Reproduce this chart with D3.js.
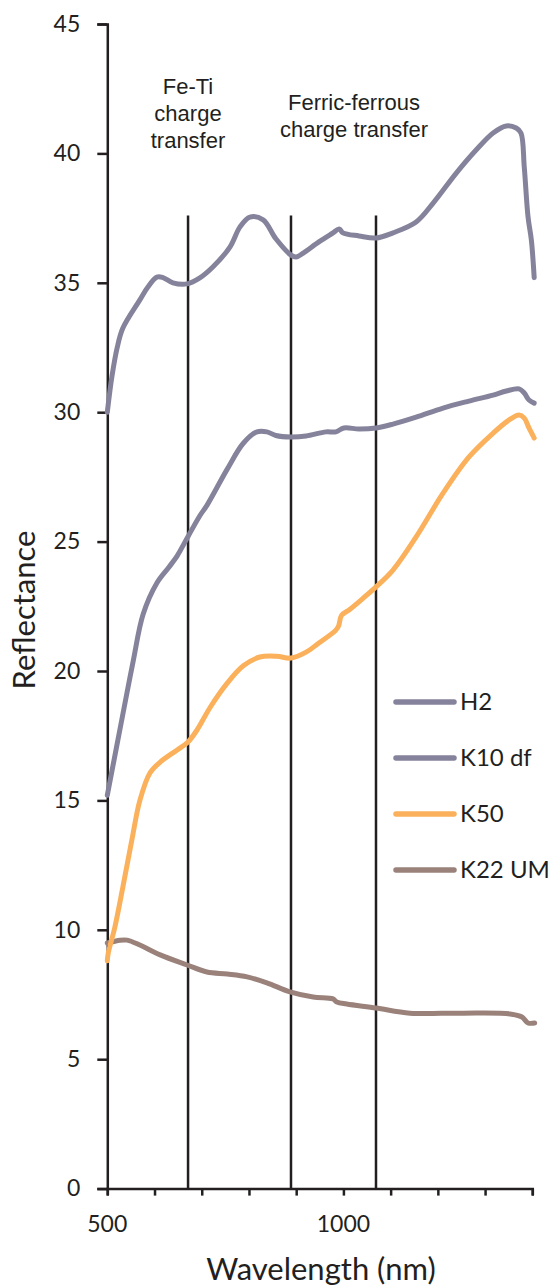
<!DOCTYPE html>
<html>
<head>
<meta charset="utf-8">
<script src="https://cdn.jsdelivr.net/npm/d3@7"></script>
<style>
  html, body { margin: 0; padding: 0; background: #ffffff; }
  svg { display: block; }
</style>
</head>
<body>
<svg id="chart" width="552" height="1286"></svg>
<script>
// ---- Data ----
const seriesNames = ["H2", "K10 df", "K50", "K22 UM"];
const seriesColors = ["#85839b", "#85839b", "#fbb15b", "#9a827b"];

const h2Wl  = [500, 510, 521, 533, 569, 586, 605, 618, 639, 669, 696, 724, 760, 781, 802, 830, 857, 889, 900, 915, 948, 978, 991, 999, 1033, 1069, 1105, 1154, 1190, 1239, 1281, 1317, 1345, 1366, 1376, 1383, 1391, 1398, 1404];
const h2Val = [30.0, 31.4, 32.5, 33.25, 34.34, 34.84, 35.22, 35.2, 35.0, 34.96, 35.19, 35.62, 36.39, 37.16, 37.54, 37.43, 36.7, 36.07, 36.0, 36.15, 36.58, 36.93, 37.08, 36.93, 36.81, 36.73, 36.93, 37.35, 38.08, 39.24, 40.13, 40.79, 41.06, 40.98, 40.79, 39.47, 37.54, 36.65, 35.2];

const k10Wl  = [500, 520, 540, 555, 576, 605, 630, 648, 671, 696, 711, 754, 788, 817, 838, 857, 889, 921, 963, 984, 1001, 1033, 1069, 1105, 1154, 1211, 1266, 1317, 1345, 1372, 1383, 1393, 1404];
const k10Val = [15.2, 17.1, 19.0, 20.4, 22.2, 23.4, 24.0, 24.45, 25.2, 26.0, 26.4, 27.8, 28.8, 29.24, 29.24, 29.1, 29.04, 29.08, 29.24, 29.24, 29.39, 29.35, 29.39, 29.54, 29.81, 30.16, 30.43, 30.66, 30.82, 30.9, 30.74, 30.47, 30.35];

const k50Wl  = [500, 502, 516, 533, 552, 569, 590, 612, 648, 671, 690, 718, 754, 788, 823, 859, 889, 921, 948, 984, 990, 996, 1012, 1041, 1069, 1105, 1154, 1211, 1266, 1317, 1351, 1372, 1383, 1393, 1404];
const k50Val = [8.8, 9.1, 10.1, 11.65, 13.47, 15.0, 16.05, 16.48, 16.95, 17.26, 17.72, 18.6, 19.53, 20.2, 20.54, 20.57, 20.5, 20.73, 21.08, 21.58, 21.75, 22.15, 22.36, 22.8, 23.25, 23.9, 25.18, 26.87, 28.27, 29.19, 29.7, 29.89, 29.77, 29.39, 29.0];

const k22Wl  = [500, 527, 542, 569, 612, 669, 711, 754, 796, 838, 887, 936, 978, 986, 1007, 1069, 1141, 1247, 1353, 1378, 1391, 1405];
const k22Val = [9.49, 9.6, 9.6, 9.41, 9.03, 8.64, 8.37, 8.29, 8.18, 7.95, 7.6, 7.4, 7.33, 7.21, 7.13, 6.98, 6.78, 6.78, 6.75, 6.63, 6.4, 6.4];

const bandLines = [671, 889, 1069];   // vertical marker wavelengths
const bandTop = 37.6;                  // reflectance where marker lines stop

const yTicks = [0, 5, 10, 15, 20, 25, 30, 35, 40, 45];
const xMinorTicks = [500, 600, 700, 800, 900, 1000, 1100, 1200, 1300, 1400];
const xTickLabels = [500, 1000];

const annoFeTi = ["Fe-Ti", "charge", "transfer"];
const annoFerric = ["Ferric-ferrous", "charge transfer"];

const xTitle = "Wavelength (nm)";
const yTitle = "Reflectance";

// ---- Chart ----
const svg = d3.select("#chart");
const x = d3.scaleLinear().domain([500, 1400]).range([107.3, 532.3]);
const y = d3.scaleLinear().domain([0, 45]).range([1188.6, 24]);
const axisColor = "#231f20";
const labelFont = "Lato, 'Open Sans', sans-serif";

// Axes
const yAxis = svg.append("g").attr("transform", `translate(${x(500)},0)`)
  .call(d3.axisLeft(y).tickValues(yTicks).tickSize(10).tickPadding(17).tickFormat(d3.format("d")));
const xAxis = svg.append("g").attr("transform", `translate(0,${y(0)})`)
  .call(d3.axisBottom(x).tickValues(xMinorTicks).tickSize(7).tickFormat(""));
[yAxis, xAxis].forEach(g => {
  g.select(".domain").attr("stroke", axisColor).attr("stroke-width", 2.5);
  g.selectAll(".tick line").attr("stroke", axisColor).attr("stroke-width", 2.5);
});
yAxis.selectAll(".tick text").attr("fill", "#231f20").style("font-family", labelFont).style("font-size", "23px");

svg.append("g").selectAll("text").data(xTickLabels).join("text")
  .attr("x", d => x(d)).attr("y", 1232).attr("text-anchor", "middle")
  .attr("fill", "#231f20").style("font-family", labelFont).style("font-size", "23px")
  .text(d => d);

// Axis titles
svg.append("text").attr("x", 321).attr("y", 1280).attr("text-anchor", "middle")
  .attr("fill", "#231f20").style("font-family", labelFont).style("font-size", "31px").text(xTitle);
svg.append("text").attr("transform", "translate(35,610) rotate(-90)").attr("text-anchor", "middle")
  .attr("fill", "#231f20").style("font-family", labelFont).style("font-size", "31px").text(yTitle);

// Vertical band lines
svg.append("g").selectAll("line").data(bandLines).join("line")
  .attr("x1", d => x(d)).attr("x2", d => x(d))
  .attr("y1", y(0)).attr("y2", y(bandTop))
  .attr("stroke", axisColor).attr("stroke-width", 2.5);

// Series
const series = [
  {name: seriesNames[0], wl: h2Wl, v: h2Val, c: seriesColors[0]},
  {name: seriesNames[1], wl: k10Wl, v: k10Val, c: seriesColors[1]},
  {name: seriesNames[2], wl: k50Wl, v: k50Val, c: seriesColors[2]},
  {name: seriesNames[3], wl: k22Wl, v: k22Val, c: seriesColors[3]},
];
const line = d3.line().x(d => x(d[0])).y(d => y(d[1])).curve(d3.curveCatmullRom.alpha(0.5));
// draw back to front: K22, K50, K10, H2
[3, 2, 1, 0].forEach(i => {
  const s = series[i];
  svg.append("path")
    .attr("d", line(s.wl.map((w, j) => [w, s.v[j]])))
    .attr("fill", "none").attr("stroke", s.c).attr("stroke-width", 5)
    .attr("stroke-linejoin", "round").attr("stroke-linecap", "round");
});

// Annotations
const annoFont = "'Liberation Sans', Arial, sans-serif";
svg.append("g").selectAll("text").data(annoFeTi).join("text")
  .attr("x", 188).attr("y", (d, i) => 94 + i * 27).attr("text-anchor", "middle")
  .attr("fill", "#231f20").style("font-family", annoFont).style("font-size", "22px").text(d => d);
svg.append("g").selectAll("text").data(annoFerric).join("text")
  .attr("x", 354).attr("y", (d, i) => 110 + i * 27).attr("text-anchor", "middle")
  .attr("fill", "#231f20").style("font-family", annoFont).style("font-size", "22px").text(d => d);

// Legend
const leg = svg.append("g").selectAll("g").data(series).join("g")
  .attr("transform", (d, i) => `translate(396,${702 + i * 56})`);
leg.append("line").attr("x1", 0).attr("x2", 58).attr("y1", 0).attr("y2", 0)
  .attr("stroke", d => d.c).attr("stroke-width", 5.5).attr("stroke-linecap", "round");
leg.append("text").attr("x", 64).attr("y", 8)
  .attr("fill", "#231f20").style("font-family", labelFont).style("font-size", "24px").text(d => d.name);
</script>
</body>
</html>
